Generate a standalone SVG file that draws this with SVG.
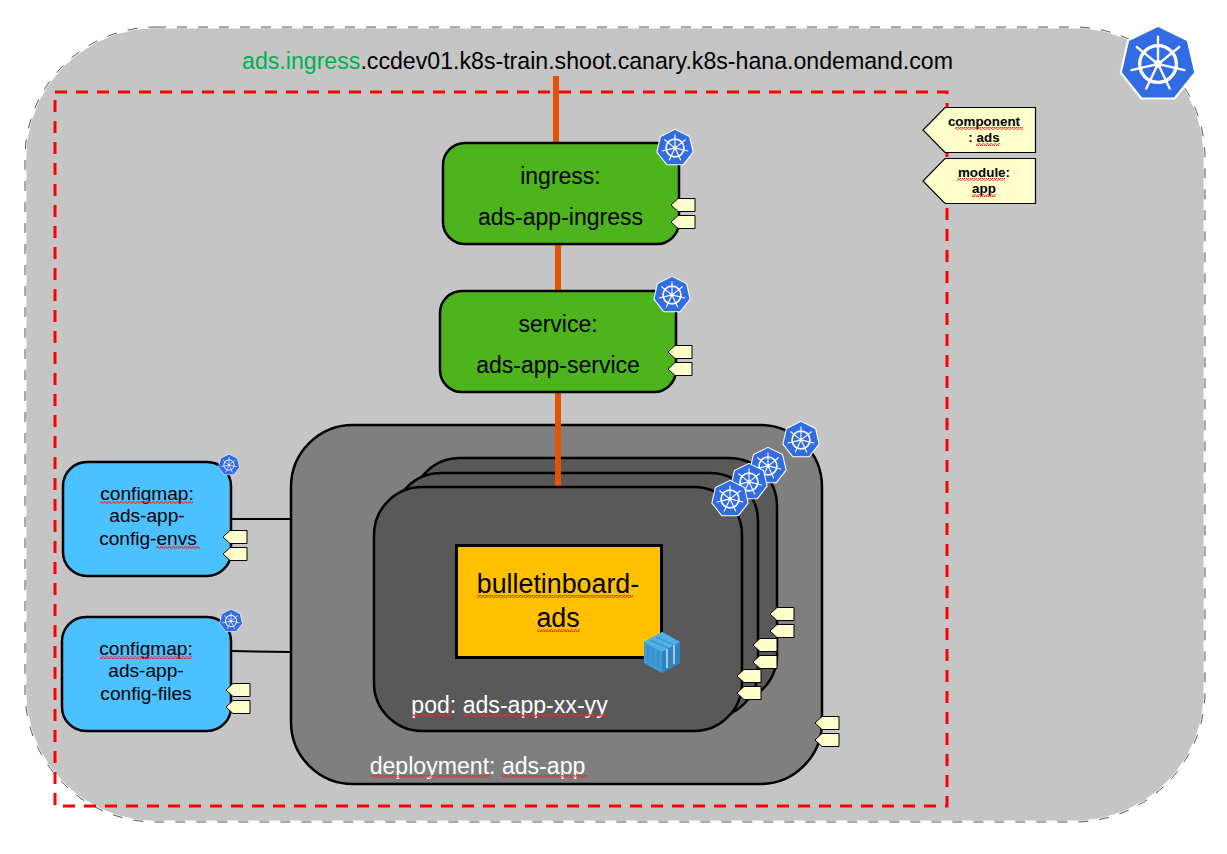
<svg xmlns="http://www.w3.org/2000/svg" width="1227" height="854" viewBox="0 0 1227 854">
<style>
text{font-family:"Liberation Sans",Arial,sans-serif;text-anchor:middle;fill:#000}
.n{stroke:#000;stroke-width:2.5}
.g{fill:#4db51b}.b{fill:#4bc1ff}.p{fill:#595959;stroke:#000;stroke-width:2.5}
.t{font-size:23px}.c{font-size:19.1px}
.w{fill:#fff;font-size:23.1px}
.tag{font-size:13.4px;font-weight:bold}
.link{stroke:#e35205;stroke-width:6;fill:none}
.line{stroke:#000;stroke-width:2;fill:none}
.sq{fill:url(#squig)}
</style>
<defs>
<pattern id="squig" width="4" height="3" patternUnits="userSpaceOnUse"><path d="M0 2.300L1 .7L2 .7L3 2.300L4 2.300" fill="none" stroke="#f0262c" stroke-width="1.100"/></pattern>
<symbol id="k8s" viewBox="-20 -20 40 40" overflow="visible">
<polygon points="0,-19.6 15.3,-12.2 19.1,4.4 8.5,17.7 -8.5,17.7 -19.1,4.4 -15.3,-12.2" fill="#326ce5" stroke="#fff" stroke-width="1.100" stroke-linejoin="round"/>
<g fill="none" stroke="#fff">
<circle r="9.400" stroke-width="1.700"/>
<path stroke-width="1.200" stroke-linecap="round" d="M0 -14V-2M10.900 -8.700L1.600 -1.200M13.600 3.100L2 .4M6 12.600L.9 1.800M-6 12.600L-.9 1.800M-13.600 3.100L-2 .4M-10.900 -8.700L-1.600 -1.200"/>
</g>
<circle r="2" fill="#fff"/>
</symbol>
<symbol id="tag" viewBox="0 0 25 14" overflow="visible">
<path d="M25 .5H8L1 7L8 13.500H25Z" fill="#ffffcc" stroke="#000" stroke-width="1"/>
</symbol>
<symbol id="tags" viewBox="0 0 25 31" overflow="visible">
<use href="#tag" x="0" y="0" width="25" height="14"/>
<use href="#tag" x="0" y="17" width="25" height="14"/>
</symbol>
</defs>

<g id="cluster">
<rect x="26" y="28" width="1178" height="793" rx="130" ry="130" fill="#c5c5c5"/>
<rect x="25.500" y="27.500" width="1179" height="794" rx="130" ry="130" fill="none" stroke="#fff" stroke-width="2" stroke-dasharray="11 10" stroke-dashoffset="11"/>
<rect x="25" y="27" width="1180" height="795" rx="131" ry="131" fill="none" stroke="#555" stroke-width="1" stroke-dasharray="10 11"/>
<text x="597.500" y="69" font-size="23.150"><tspan fill="#00b050">ads.ingress</tspan>.ccdev01.k8s-train.shoot.canary.k8s-hana.ondemand.com</text>
<use href="#k8s" x="1119" y="25" width="78" height="78"/>
</g>

<g id="namespace-boundary">
<rect x="55" y="92" width="892" height="714" fill="none" stroke="#f00" stroke-width="3" stroke-dasharray="12 9"/>
</g>

<g id="label-component">
<path d="M1035.500 107.500H945L923 130L945 152.500H1035.500Z" fill="#ffffcc" stroke="#000" stroke-width="1.200"/>
<text class="tag" x="984" y="126">component</text>
<text class="tag" x="984" y="142">: ads</text>
<rect class="sq" x="955" y="127" width="68" height="3"/>
<rect class="sq" x="976" y="143" width="24" height="3"/>
</g>
<g id="label-module">
<path d="M1035.500 158.500H945L923 181L945 203.500H1035.500Z" fill="#ffffcc" stroke="#000" stroke-width="1.200"/>
<text class="tag" x="984" y="177">module:</text>
<text class="tag" x="984" y="193">app</text>
<rect class="sq" x="957" y="178" width="48" height="3"/>
<rect class="sq" x="972" y="194" width="24" height="3"/>
</g>

<g id="deployment">
<rect x="291" y="425" width="531" height="359" rx="62" fill="#7f7f7f" stroke="#000" stroke-width="2.500"/>
<text class="w" x="477.500" y="774">deployment: ads-app</text>
<rect class="sq" x="370" y="775" width="120" height="3"/>
<rect class="sq" x="502" y="775" width="85" height="3"/>
<use href="#tags" x="814" y="716" width="25" height="31"/>
<use href="#k8s" x="782" y="421" width="38" height="38"/>
</g>

<g id="pod-3">
<rect class="p" x="412" y="458" width="365" height="245" rx="48"/>
<use href="#tags" x="769" y="607" width="25" height="31"/>
<use href="#k8s" x="749" y="447" width="38" height="38"/>
</g>
<g id="pod-2">
<rect class="p" x="393" y="473" width="365" height="245" rx="48"/>
<use href="#tags" x="752" y="638" width="25" height="31"/>
<use href="#k8s" x="730" y="463" width="38" height="38"/>
</g>
<g id="connectors">
<path class="link" d="M556 76V143"/>
<path class="link" d="M558 245V291"/>
<path class="link" d="M558 393V488"/>
<path class="line" d="M231 519H291"/>
<path class="line" d="M231 651L291 652"/>
</g>
<g id="pod-1">
<rect class="p" x="374" y="487" width="368" height="244" rx="48"/>
<text class="w" x="509.500" y="713">pod: ads-app-xx-yy</text>
<rect class="sq" x="411" y="714" width="41" height="3"/>
<rect class="sq" x="463" y="714" width="145" height="3"/>
<use href="#tags" x="736" y="669" width="25" height="31"/>
<use href="#k8s" x="711" y="480" width="38" height="38"/>
</g>

<g id="ingress">
<rect class="n g" x="443" y="143" width="236" height="101" rx="22"/>
<text class="t" x="560.500" y="184">ingress:</text>
<text class="t" x="560.500" y="225">ads-app-ingress</text>
<use href="#tags" x="670" y="198" width="25" height="31"/>
<use href="#k8s" x="656" y="129" width="38" height="38"/>
</g>

<g id="service">
<rect class="n g" x="440" y="291" width="236" height="101" rx="22"/>
<text class="t" x="558" y="332">service:</text>
<text class="t" x="558" y="373">ads-app-service</text>
<use href="#tags" x="667" y="345" width="25" height="31"/>
<use href="#k8s" x="653" y="276" width="38" height="38"/>
</g>

<g id="container">
<rect x="456.500" y="545.500" width="205" height="112" fill="#ffc000" stroke="#000" stroke-width="3"/>
<text x="558" y="593" font-size="26.800">bulletinboard-</text>
<text x="558" y="627" font-size="26.800">ads</text>
<rect class="sq" x="477" y="595" width="156" height="3"/>
<rect class="sq" x="537" y="629" width="43" height="3"/>
<g id="container-icon">
<polygon points="662,632 680,642 680,663 662,673 644,663 644,642" fill="#3e9bd8"/>
<polygon points="662,632 680,642 662,652 644,642" fill="#4eb0e6"/>
<polygon points="662,652 680,642 680,663 662,673" fill="#2e86c1"/>
<path d="M667 649V668M674 645V664" stroke="#cfe0ea" stroke-width="1.500"/>
<path d="M648 646V662M653 649V665M658 651V668M650 640L668 648M656 637L674 645" stroke="#2a7fb8" stroke-width=".8" fill="none"/>
</g>
</g>

<g id="configmap-envs">
<rect class="n b" x="63" y="462" width="168" height="114" rx="24"/>
<text class="c" x="147" y="500">configmap:</text>
<text class="c" x="147" y="522">ads-app-</text>
<text class="c" x="148" y="545">config-envs</text>
<rect class="sq" x="100" y="501" width="93" height="3"/>
<rect class="sq" x="156" y="546" width="44" height="3"/>
<use href="#tags" x="222" y="530" width="25" height="31"/>
<use href="#k8s" x="218" y="454" width="22" height="22"/>
</g>

<g id="configmap-files">
<rect class="n b" x="62" y="617" width="169" height="114" rx="24"/>
<text class="c" x="146" y="655">configmap:</text>
<text class="c" x="146" y="677">ads-app-</text>
<text class="c" x="146" y="700">config-files</text>
<rect class="sq" x="100" y="656" width="92" height="3"/>
<use href="#tags" x="225" y="683" width="25" height="31"/>
<use href="#k8s" x="219" y="609" width="24" height="24"/>
</g>
</svg>
